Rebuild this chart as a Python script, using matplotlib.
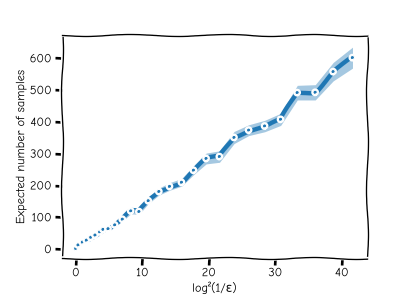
import numpy as np
import matplotlib
matplotlib.use("Agg")
import matplotlib.pyplot as plt

# x = log^2(1/eps), y = expected number of samples, err = half-width of band
x = [0.0, 0.35, 1.0, 1.6, 2.26, 2.9, 3.6, 4.1, 4.86, 5.86, 7.0, 8.27, 9.5,
     10.9, 12.5, 14.1, 15.9, 17.7, 19.6, 21.6, 23.8, 26.0, 28.4, 30.8,
     33.3, 36.0, 38.7, 41.6]
y = [2, 13, 22, 28, 37, 44, 54, 62, 64, 76, 94, 120, 118,
     152, 181, 197, 210, 248, 285, 291, 351, 374, 387, 408,
     492, 493, 558, 602]
err = [1, 2, 2, 3, 3, 3, 4, 4, 4, 5, 6, 9, 9,
       9, 11, 12, 12, 14, 17, 18, 19, 17, 18, 19,
       23, 24, 29, 33]

x = np.array(x)
y = np.array(y)
err = np.array(err)

plt.xkcd()
plt.rcParams['font.family'] = list(plt.rcParams['font.family']) + ['DejaVu Sans']

dpi = 407 / 6.4
fig = plt.figure(figsize=(6.4, 305 / dpi), dpi=dpi)
ax = fig.add_axes([0.152, 0.154, 0.75, 0.731])

ax.fill_between(x, y - err, y + err, color='C0', alpha=0.4, lw=0)
ax.plot(x, y, '-', color='C0', lw=5, marker='o', markersize=4,
        markerfacecolor='C0', markeredgecolor='white', markeredgewidth=1.2)

ax.set_xlim(-2.1, 43.8)
ax.set_ylim(-28, 673)
ax.set_xticks([0, 10, 20, 30, 40])
ax.set_yticks([0, 100, 200, 300, 400, 500, 600])
ax.set_xlabel('log²(1/ε)')
ax.set_ylabel('Expected number of samples')

fig.savefig('out.png', dpi=dpi)
